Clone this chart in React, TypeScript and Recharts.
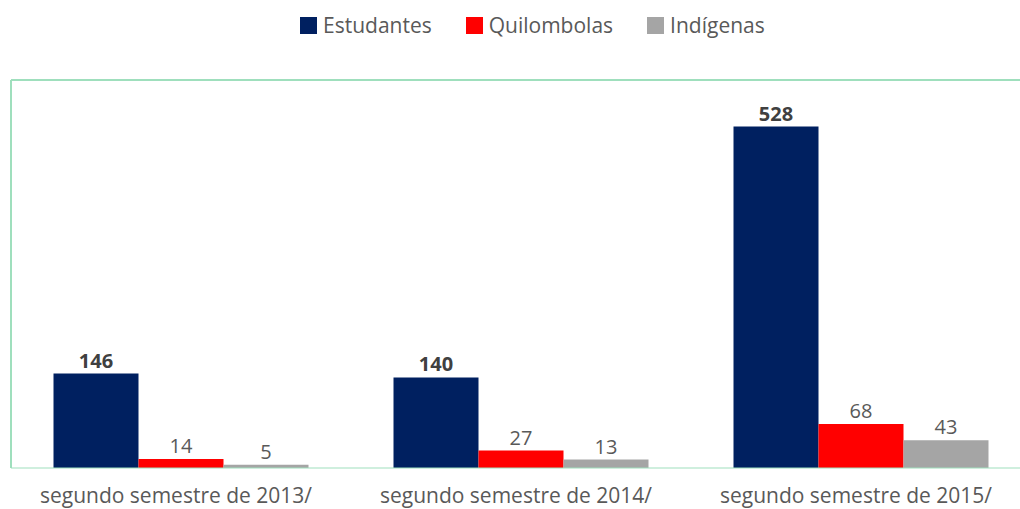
import React from "react";
import {
  BarChart, Bar, XAxis, YAxis, LabelList, ReferenceLine
} from "recharts";

const categories = ["segundo semestre de 2013/", "segundo semestre de 2014/", "segundo semestre de 2015/"];
const estudantes = [146, 140, 528];
const quilombolas = [14, 27, 68];
const indigenas = [5, 13, 43];

const series = [
  { key: "estudantes", name: "Estudantes", color: "#002060", bold: true },
  { key: "quilombolas", name: "Quilombolas", color: "#FF0000", bold: false },
  { key: "indigenas", name: "Indígenas", color: "#A5A5A5", bold: false },
];

const data = categories.map((c, i) => ({
  cat: c,
  estudantes: estudantes[i],
  quilombolas: quilombolas[i],
  indigenas: indigenas[i],
}));

const FONT = "'Open Sans', 'Noto Sans', sans-serif";
const FRAME = "#9fdfbd";

function LegendRow() {
  return (
    <div style={{
      position: "absolute", top: 10, left: 300,
      display: "flex", gap: 34,
      fontFamily: FONT, fontSize: 21, color: "#595959", lineHeight: "30px",
    }}>
      {series.map((s) => (
        <div key={s.key} style={{ display: "flex", alignItems: "center" }}>
          <span style={{ width: 17, height: 17, background: s.color, display: "inline-block", marginRight: 6 }} />
          <span>{s.name}</span>
        </div>
      ))}
    </div>
  );
}

function CatTick(props: any) {
  const { x, y, payload } = props;
  return (
    <text x={x - 5} y={y + 27} textAnchor="middle" fontFamily={FONT} fontSize={21} fill="#595959">
      {payload.value}
    </text>
  );
}

export default function App() {
  return (
    <div style={{ position: "fixed", left: 0, top: 0, width: 1020, height: 509, overflow: "hidden", background: "#fff" }}>
      <LegendRow />
      <BarChart
        width={1045}
        height={509}
        data={data}
        margin={{ top: 80, right: 14, left: 10, bottom: 0 }}
        barCategoryGap="12.5%"
        barGap={0}
      >
        <XAxis dataKey="cat" tick={<CatTick />} tickLine={false} axisLine={{ stroke: FRAME, strokeWidth: 1 }} height={41} />
        <YAxis domain={[0, 600]} width={1} tick={false} tickLine={false} axisLine={{ stroke: FRAME, strokeWidth: 2 }} />
        <ReferenceLine y={600} stroke={FRAME} strokeWidth={2} />
        {series.map((s) => (
          <Bar key={s.key} dataKey={s.key} name={s.name} fill={s.color} isAnimationActive={false}>
            <LabelList
              dataKey={s.key}
              position="top"
              offset={6}
              fontFamily={FONT}
              fontSize={20}
              fontWeight={s.bold ? 700 : 400}
              fill={s.bold ? "#404040" : "#595959"}
            />
          </Bar>
        ))}
      </BarChart>
    </div>
  );
}
